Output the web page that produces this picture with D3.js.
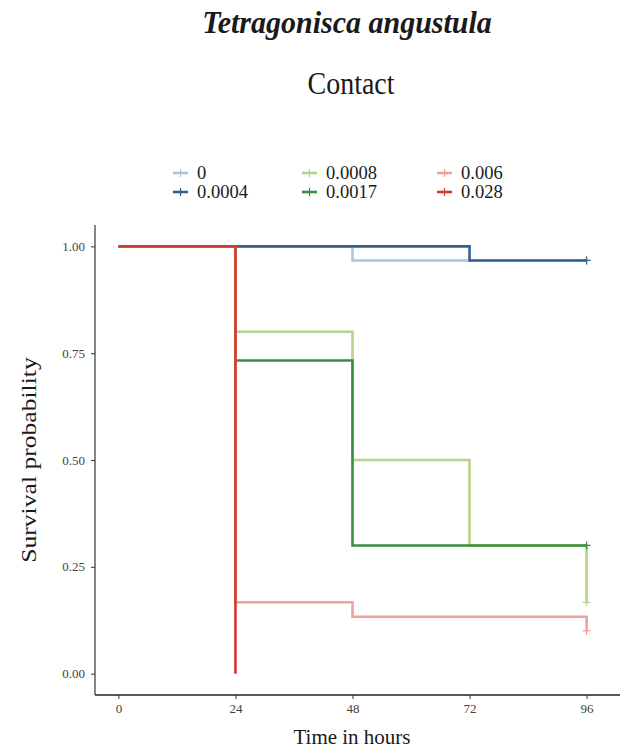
<!DOCTYPE html>
<html>
<head>
<meta charset="utf-8">
<script src="https://cdn.jsdelivr.net/npm/d3@7"></script>
<style>
  body { margin: 0; background: #fff; }
  text { font-family: "Liberation Serif", "DejaVu Serif", serif; }
</style>
</head>
<body>
<div id="chart"></div>
<script>
// Kaplan-Meier steps
const groups = ["0", "0.0004", "0.0008", "0.0017", "0.006", "0.028"];
const colors = ["#a9c6de", "#35618f", "#b6d38b", "#3b8e3d", "#f0a19c", "#cf3b2f"];
const times = [0, 24, 48, 72, 96];
const surv0     = [1, 1, 0.967, 0.967, 0.967];
const surv0004  = [1, 1, 1, 0.967, 0.967];
const surv0008  = [1, 0.8, 0.5, 0.3, 0.167];
const surv0017  = [1, 0.733, 0.3, 0.3, 0.3];
const surv006   = [1, 0.167, 0.133, 0.133, 0.1];
const surv028   = [1, 0, null, null, null];
const seriesVals = [surv0, surv0004, surv0008, surv0017, surv006, surv028];
const xTicks = [0, 24, 48, 72, 96];
const yTicks = [0, 0.25, 0.5, 0.75, 1];

const W = 622, H = 749;
const margin = {top: 225, right: 12, bottom: 54, left: 95};
const width = W - margin.left - margin.right,
      height = H - margin.top - margin.bottom;

const svg = d3.select("#chart").append("svg")
  .attr("width", W).attr("height", H);

// titles
svg.append("text")
  .attr("transform", "translate(347,33) scale(1,1.05)")
  .attr("text-anchor", "middle")
  .style("font-size", "30px").style("font-weight", "bold").style("font-style", "italic")
  .attr("fill", "#1a1a1a")
  .text("Tetragonisca angustula");
svg.append("text")
  .attr("transform", "translate(351,94) scale(1,1.15)")
  .attr("text-anchor", "middle")
  .style("font-size", "28px")
  .attr("fill", "#1a1a1a")
  .text("Contact");

const g = svg.append("g").attr("transform", `translate(${margin.left},${margin.top})`);

const x = d3.scaleLinear().domain([-96 * 0.05, 96 * 1.05]).range([0, width]);
const y = d3.scaleLinear().domain([-0.05, 1.05]).range([height, 0]);

// x axis
const xAxis = g.append("g")
  .attr("transform", `translate(0,${height})`)
  .call(d3.axisBottom(x).tickValues(xTicks).tickSize(4).tickPadding(5));
xAxis.select(".domain").attr("stroke", "#222").attr("stroke-width", 1.3)
  .attr("d", `M0,0H${width + 10}`);
xAxis.selectAll(".tick line").attr("stroke", "#333");
xAxis.selectAll(".tick text").style("font-size", "13px").attr("fill", "#444")
  .style("font-family", "'Liberation Serif', serif");

// y axis
const yAxis = g.append("g")
  .call(d3.axisLeft(y).tickValues(yTicks).tickFormat(d3.format(".2f")).tickSize(4).tickPadding(6));
yAxis.select(".domain").attr("stroke", "#444").attr("stroke-width", 1.3)
  .attr("d", `M0,0V${height}`);
yAxis.selectAll(".tick line").attr("stroke", "#333");
yAxis.selectAll(".tick text").style("font-size", "13px").attr("fill", "#444")
  .style("font-family", "'Liberation Serif', serif");

// axis titles
svg.append("text")
  .attr("x", 352).attr("y", 744)
  .attr("text-anchor", "middle")
  .style("font-size", "21px").attr("fill", "#1a1a1a")
  .text("Time in hours");
svg.append("text")
  .attr("transform", "translate(36,460) rotate(-90) scale(1.22,1)")
  .attr("text-anchor", "middle")
  .style("font-size", "21px").attr("fill", "#1a1a1a")
  .text("Survival probability");

// survival curves
const line = d3.line()
  .x(d => x(d.t))
  .y(d => y(d.s))
  .curve(d3.curveStepAfter);

groups.forEach((grp, i) => {
  const data = times.map((t, j) => ({t: t, s: seriesVals[i][j]})).filter(d => d.s !== null);
  g.append("path")
    .datum(data)
    .attr("fill", "none")
    .attr("stroke", colors[i])
    .attr("stroke-width", 2.6)
    .attr("d", line);
  // censor mark at end of follow-up
  const last = data[data.length - 1];
  if (last.t === 96) {
    g.append("path")
      .attr("d", `M${x(96) - 4},${y(last.s)}H${x(96) + 4}M${x(96)},${y(last.s) - 4}V${y(last.s) + 4}`)
      .attr("stroke", colors[i]).attr("stroke-width", 1.2);
  }
});

// legend
const legendPos = [[173, 173], [173, 192], [302, 173], [302, 192], [437, 173], [437, 192]];
groups.forEach((grp, i) => {
  const lg = svg.append("g").attr("transform", `translate(${legendPos[i][0]},${legendPos[i][1]})`);
  lg.append("line").attr("x1", 0).attr("x2", 15).attr("y1", 0).attr("y2", 0)
    .attr("stroke", colors[i]).attr("stroke-width", 2.6);
  lg.append("line").attr("x1", 7.5).attr("x2", 7.5).attr("y1", -4).attr("y2", 4)
    .attr("stroke", colors[i]).attr("stroke-width", 1.2);
  lg.append("text").attr("x", 24).attr("y", 5.5)
    .style("font-size", "18.5px").attr("fill", "#1a1a1a")
    .text(grp);
});
</script>
</body>
</html>
